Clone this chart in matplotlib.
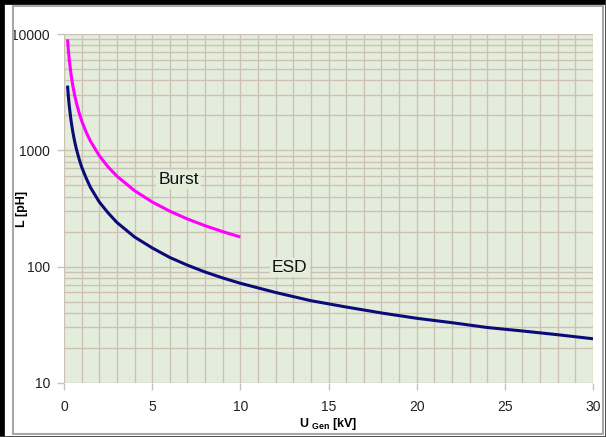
import matplotlib
matplotlib.use('Agg')
import matplotlib.pyplot as plt
from matplotlib.lines import Line2D
from matplotlib.patches import Rectangle
from matplotlib.ticker import FixedLocator, NullFormatter
import numpy as np

# ESD and Burst curves
esdU = [0.2, 0.25, 0.3, 0.4, 0.5, 0.6, 0.7, 0.85, 1, 1.25, 1.5, 2, 2.5, 3, 4,
        5, 6, 7, 8, 9, 10, 12, 14, 16, 18, 20, 22, 24, 26, 28, 30]
esdL = [3600, 2880, 2400, 1800, 1440, 1200, 1030, 850, 720, 580, 480, 360,
        290, 240, 180, 145, 120, 103, 90, 80, 72, 60, 51, 45, 40, 36, 33, 30,
        28, 26, 24]

burstU = [0.2, 0.25, 0.3, 0.4, 0.5, 0.6, 0.7, 0.85, 1, 1.25, 1.5, 2, 2.5, 3,
          4, 5, 6, 7, 8, 9, 10]
burstL = [9000, 7200, 6000, 4500, 3600, 3000, 2570, 2120, 1800, 1440, 1200,
          900, 720, 600, 450, 360, 300, 257, 225, 200, 180]

xTicks = [0, 5, 10, 15, 20, 25, 30]
yTicks = [10, 100, 1000, 10000]
yTickLabels = ['10', '100', '1000', '10000']

bgColor = '#e4eddc'
gridColor = '#cbc2b4'

plt.rcParams['font.family'] = ['Liberation Sans', 'DejaVu Sans']

fig = plt.figure(figsize=(6.06, 4.37), dpi=100)
fig.patch.set_facecolor('white')

# outer frame: black edge top/left, grey inner border
fig.add_artist(Line2D([0, 1], [1, 1], transform=fig.transFigure,
                      color='black', linewidth=7))
fig.add_artist(Line2D([0, 0], [0, 1], transform=fig.transFigure,
                      color='black', linewidth=7))
fig.add_artist(Line2D([1, 1], [0, 1], transform=fig.transFigure,
                      color='#404040', linewidth=2))
fig.add_artist(Line2D([0, 1], [0, 0], transform=fig.transFigure,
                      color='#404040', linewidth=2))
fig.add_artist(Rectangle((13 / 606, 3 / 437), 590 / 606, 428 / 437,
                         transform=fig.transFigure, fill=False,
                         edgecolor='#a8a8a8', linewidth=1.5))

ax = fig.add_axes([64 / 606, 1 - 383 / 437, 529 / 606, 349 / 437])
ax.set_facecolor(bgColor)
ax.set_yscale('log')
ax.set_xlim(0, 30)
ax.set_ylim(10, 10000)

ax.xaxis.set_major_locator(FixedLocator(xTicks))
ax.xaxis.set_minor_locator(FixedLocator(np.arange(0, 31, 1)))
ax.xaxis.set_minor_formatter(NullFormatter())
ax.yaxis.set_major_locator(FixedLocator(yTicks))
ax.set_yticklabels(yTickLabels)
minorY = [m * 10 ** e for e in range(1, 4) for m in range(2, 10)]
ax.yaxis.set_minor_locator(FixedLocator(minorY))
ax.yaxis.set_minor_formatter(NullFormatter())

ax.grid(True, which='both', color=gridColor, linewidth=1.0)
ax.set_axisbelow(True)
for s in ax.spines.values():
    s.set_visible(False)
ax.tick_params(which='major', length=5, width=1, color=gridColor,
               labelsize=10, labelcolor='#222222', pad=5)
ax.tick_params(axis='x', which='major', pad=7)
ax.tick_params(which='minor', length=0)

ax.plot(esdU, esdL, color='#0b0b78', linewidth=2.2, solid_capstyle='butt')
ax.plot(burstU, burstL, color='#ff00ff', linewidth=2.2, solid_capstyle='butt')

ax.text(6.5, 560, 'Burst', fontsize=12.5, ha='center', va='center',
        color='#111111',
        bbox=dict(facecolor=bgColor, edgecolor='none', pad=1.5))
ax.text(12.8, 99, 'ESD', fontsize=12.5, ha='center', va='center',
        color='#111111',
        bbox=dict(facecolor=bgColor, edgecolor='none', pad=1.5))

ax.set_ylabel('L [pH]', fontsize=9, fontweight='bold', va='center')
ax.yaxis.set_label_coords(-42 / 529, 0.5)
ax.set_xlabel(r'U $_{\mathregular{Gen}}$ [kV]', fontsize=9,
              fontweight='bold', va='center')
ax.xaxis.set_label_coords(0.5, -41 / 349)

fig.savefig('out.png', dpi=100, facecolor=fig.get_facecolor())
